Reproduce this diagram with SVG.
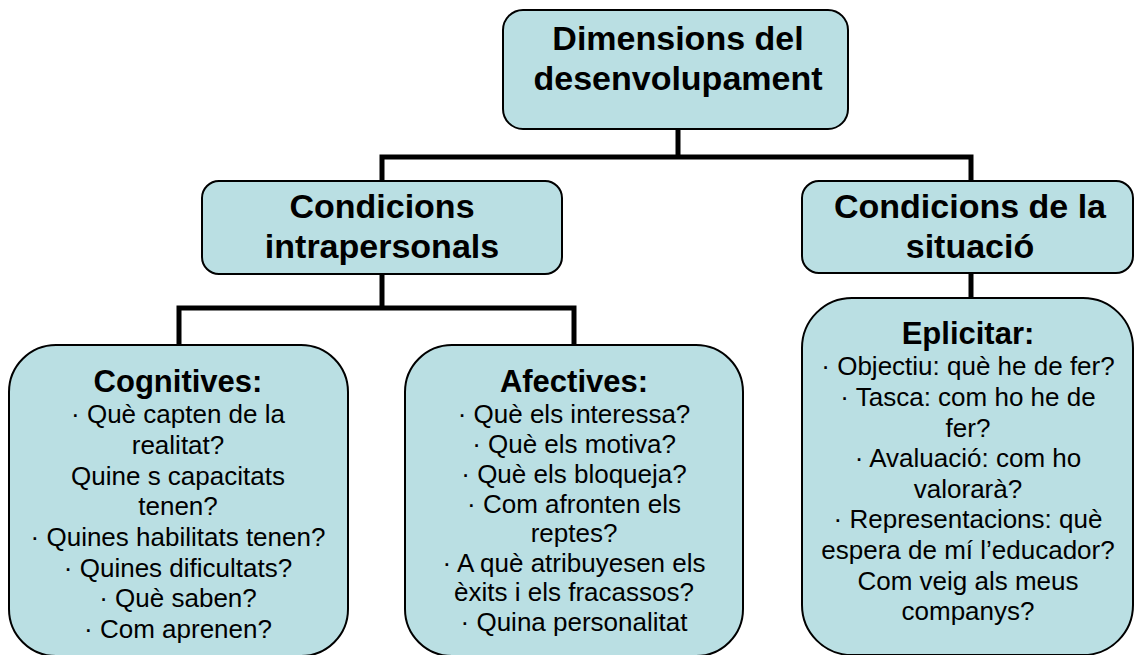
<svg xmlns="http://www.w3.org/2000/svg" width="1135" height="655" viewBox="0 0 1135 655">
<style>
.box{fill:#BADFE3;stroke:#000;stroke-width:2}
.ln{fill:none;stroke:#000;stroke-width:5;stroke-linejoin:miter}
.t{font-family:"Liberation Sans",Arial,sans-serif;font-weight:bold;font-size:34px;text-anchor:middle;fill:#000}
.h{font-family:"Liberation Sans",Arial,sans-serif;font-weight:bold;font-size:31px;text-anchor:middle;fill:#000}
.b{font-family:"Liberation Sans",Arial,sans-serif;font-size:26px;text-anchor:middle;fill:#000}
</style>
<rect width="1135" height="655" fill="#fff"/>
<g id="connectors">
<path class="ln" d="M678,129 V157"/>
<path class="ln" d="M382,182 V157 H971 V182"/>
<path class="ln" d="M382,274 V308"/>
<path class="ln" d="M179,346 V308 H574 V346"/>
<path class="ln" d="M971,273 V299"/>
</g>
<g id="n-dimensions">
<rect class="box" x="503" y="10" width="345" height="119" rx="20"/>
<text class="t" x="678" y="50">Dimensions del</text>
<text class="t" x="678" y="90">desenvolupament</text>
</g>
<g id="n-intrapersonals">
<rect class="box" x="202" y="181" width="360" height="93" rx="17"/>
<text class="t" x="382" y="218">Condicions</text>
<text class="t" x="382" y="258">intrapersonals</text>
</g>
<g id="n-situacio">
<rect class="box" x="802" y="181" width="331" height="92" rx="17"/>
<text class="t" x="970" y="218">Condicions de la</text>
<text class="t" x="970" y="258">situació</text>
</g>
<g id="n-cognitives">
<rect class="box" x="9" y="345" width="339" height="311" rx="47"/>
<text class="h" x="178" y="392">Cognitives:</text>
<text class="b" x="178" y="423">· Què capten de la</text>
<text class="b" x="178" y="454">realitat?</text>
<text class="b" x="178" y="485">Quine s capacitats</text>
<text class="b" x="178" y="515">tenen?</text>
<text class="b" x="178" y="546">· Quines habilitats tenen?</text>
<text class="b" x="178" y="577">· Quines dificultats?</text>
<text class="b" x="178" y="607">· Què saben?</text>
<text class="b" x="178" y="638">· Com aprenen?</text>
</g>
<g id="n-afectives">
<rect class="box" x="405" y="345" width="338" height="311" rx="47"/>
<text class="h" x="574" y="392">Afectives:</text>
<text class="b" x="574" y="423">· Què els interessa?</text>
<text class="b" x="574" y="453">· Què els motiva?</text>
<text class="b" x="574" y="483">· Què els bloqueja?</text>
<text class="b" x="574" y="513">· Com afronten els</text>
<text class="b" x="574" y="542">reptes?</text>
<text class="b" x="574" y="572">· A què atribuyesen els</text>
<text class="b" x="574" y="601">èxits i els fracassos?</text>
<text class="b" x="574" y="631">· Quina personalitat</text>
</g>
<g id="n-eplicitar">
<rect class="box" x="802" y="298" width="331" height="357" rx="50"/>
<text class="h" x="968" y="344">Eplicitar:</text>
<text class="b" x="968" y="375">· Objectiu: què he de fer?</text>
<text class="b" x="968" y="406">· Tasca: com ho he de</text>
<text class="b" x="968" y="437">fer?</text>
<text class="b" x="968" y="467">· Avaluació: com ho</text>
<text class="b" x="968" y="498">valorarà?</text>
<text class="b" x="968" y="528">· Representacions: què</text>
<text class="b" x="968" y="559">espera de mí l’educador?</text>
<text class="b" x="968" y="590">Com veig als meus</text>
<text class="b" x="968" y="620">companys?</text>
</g>
</svg>
